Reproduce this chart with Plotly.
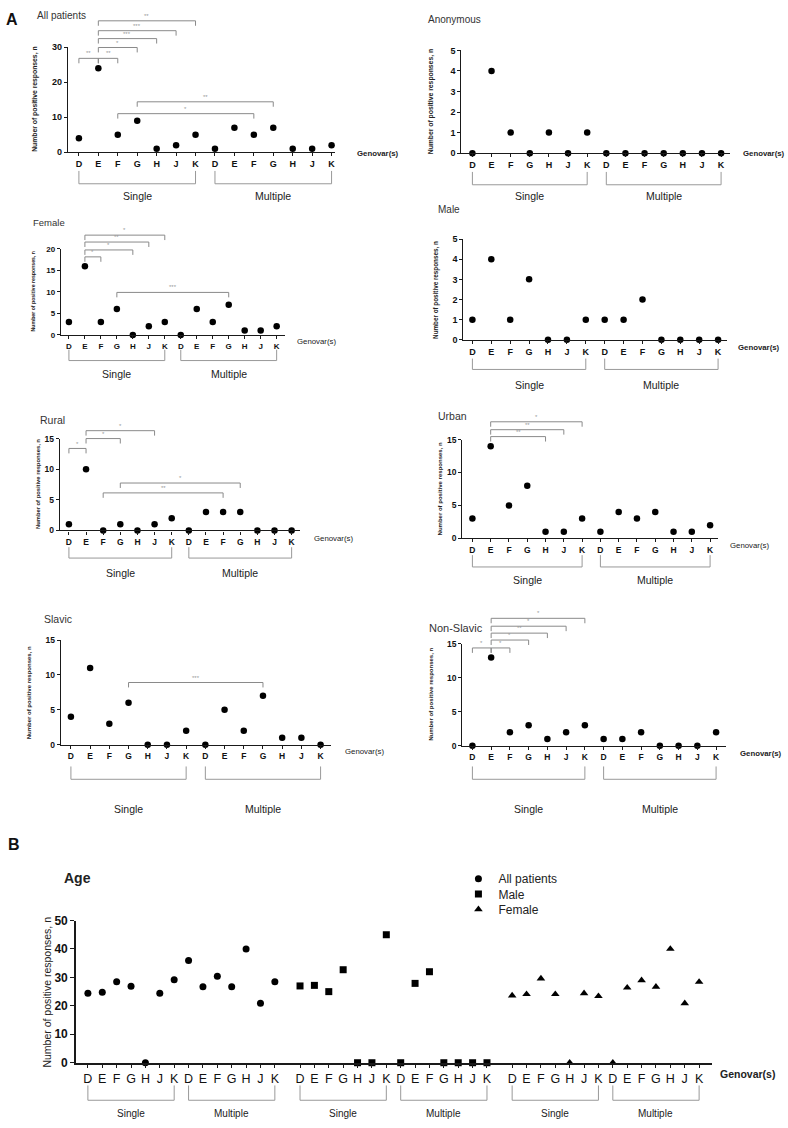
import plotly.graph_objects as go

W, H = 788, 1128

categories = ["D", "E", "F", "G", "H", "J", "K"]
group_names = ["Single", "Multiple"]

# ---------------- Panel A data ----------------
all_single = [4, 24, 5, 9, 1, 2, 5]
all_multiple = [1, 7, 5, 7, 1, 1, 2]
anon_single = [0, 4, 1, 0, 1, 0, 1]
anon_multiple = [0, 0, 0, 0, 0, 0, 0]
female_single = [3, 16, 3, 6, 0, 2, 3]
female_multiple = [0, 6, 3, 7, 1, 1, 2]
male_single = [1, 4, 1, 3, 0, 0, 1]
male_multiple = [1, 1, 2, 0, 0, 0, 0]
rural_single = [1, 10, 0, 1, 0, 1, 2]
rural_multiple = [0, 3, 3, 3, 0, 0, 0]
urban_single = [3, 14, 5, 8, 1, 1, 3]
urban_multiple = [1, 4, 3, 4, 1, 1, 2]
slavic_single = [4, 11, 3, 6, 0, 0, 2]
slavic_multiple = [0, 5, 2, 7, 1, 1, 0]
nonslavic_single = [0, 13, 2, 3, 1, 2, 3]
nonslavic_multiple = [1, 1, 2, 0, 0, 0, 2]

# significance comparisons: (group a, genovar a, group b, genovar b, label)
all_comparisons = [("S", "D", "S", "E", "**"), ("S", "E", "S", "F", "**"), ("S", "E", "S", "G", "*"),
                   ("S", "E", "S", "H", "***"), ("S", "E", "S", "J", "***"), ("S", "E", "S", "K", "**"),
                   ("S", "F", "M", "F", "*"), ("S", "G", "M", "G", "**")]
anon_comparisons = []
female_comparisons = [("S", "E", "S", "F", "*"), ("S", "E", "S", "H", "*"), ("S", "E", "S", "J", "**"),
                      ("S", "E", "S", "K", "*"), ("S", "G", "M", "G", "***")]
male_comparisons = []
rural_comparisons = [("S", "D", "S", "E", "*"), ("S", "E", "S", "G", "*"), ("S", "E", "S", "J", "*"),
                     ("S", "F", "M", "F", "**"), ("S", "G", "M", "G", "*")]
urban_comparisons = [("S", "E", "S", "H", "**"), ("S", "E", "S", "J", "**"), ("S", "E", "S", "K", "*")]
slavic_comparisons = [("S", "G", "M", "G", "***")]
nonslavic_comparisons = [("S", "D", "S", "E", "*"), ("S", "E", "S", "F", "*"), ("S", "E", "S", "G", "*"),
                         ("S", "E", "S", "H", "**"), ("S", "E", "S", "J", "*"), ("S", "E", "S", "K", "*")]

# ---------------- Panel B data (Age) ----------------
age_all_single = [24.4, 24.8, 28.5, 26.9, 0, 24.4, 29.2]
age_all_multiple = [35.9, 26.7, 30.4, 26.7, 40.0, 20.9, 28.5]
age_male_single = [27.0, 27.2, 25.0, 32.7, 0, 0, 45.0]
age_male_multiple = [0, 27.9, 32.0, 0, 0, 0, 0]
age_female_single = [23.6, 24.1, 29.6, 24.1, 0, 24.4, 23.4]
age_female_multiple = [0, 26.4, 29.0, 26.7, 40.0, 20.9, 28.4]
age_series = ["All patients", "Male", "Female"]

# ---------------- geometry (pixels) ----------------
panels = [
    dict(title="All patients", s=all_single, m=all_multiple, comps=all_comparisons, ymax=30, dtick=10,
         ax=(68, 335), cat=(79, 332), ypx=(147, 40.7), title_xy=(35, 9), yt_xy=(35, 93), gen_xy=(355, 148),
         br=(166, 179), gl_y=191, tops=[52, 52, 41, 32, 24, 14, 108, 96], tfs=9, yfs=6.8, ttl=10, gb=True),
    dict(title="Anonymous", s=anon_single, m=anon_multiple, comps=anon_comparisons, ymax=5, dtick=1,
         ax=(462, 731), cat=(473, 722), ypx=(148, 44), title_xy=(427, 13), yt_xy=(431, 96), gen_xy=(742, 148),
         br=(167, 180), gl_y=191, tops=[], tfs=9, yfs=6.8, ttl=10, gb=True),
    dict(title="Female", s=female_single, m=female_multiple, comps=female_comparisons, ymax=20, dtick=5,
         ax=(61, 285), cat=(69, 277), ypx=(332, 245), title_xy=(31, 218), yt_xy=(33, 288), gen_xy=(295, 339),
         br=(347, 358), gl_y=372, tops=[253, 246, 238, 231, 289], tfs=8, yfs=5.2, ttl=9.5, gb=False),
    dict(title="Male", s=male_single, m=male_multiple, comps=male_comparisons, ymax=5, dtick=1,
         ax=(464, 728), cat=(473, 719), ypx=(337, 235), title_xy=(437, 205), yt_xy=(437, 286), gen_xy=(737, 345),
         br=(356, 367), gl_y=383, tops=[], tfs=9, yfs=6.3, ttl=10, gb=True),
    dict(title="Rural", s=rural_single, m=rural_multiple, comps=rural_comparisons, ymax=15, dtick=5,
         ax=(60, 300), cat=(69, 292), ypx=(530, 437), title_xy=(38, 418), yt_xy=(38, 483), gen_xy=(312, 538),
         br=(547, 558), gl_y=573, tops=[447, 437, 429, 492, 482], tfs=8.5, yfs=5.8, ttl=10.5, gb=False),
    dict(title="Urban", s=urban_single, m=urban_multiple, comps=urban_comparisons, ymax=15, dtick=5,
         ax=(463, 719), cat=(473, 711), ypx=(538, 438), title_xy=(437, 414), yt_xy=(441, 488), gen_xy=(729, 545),
         br=(555, 567), gl_y=580, tops=[435, 428, 420], tfs=8.5, yfs=6, ttl=10.5, gb=False),
    dict(title="Slavic", s=slavic_single, m=slavic_multiple, comps=slavic_comparisons, ymax=15, dtick=5,
         ax=(61, 331), cat=(71, 321), ypx=(747, 641), title_xy=(42, 620), yt_xy=(29, 694), gen_xy=(343, 754),
         br=(769, 782), gl_y=812, tops=[684], tfs=8.5, yfs=6, ttl=10.5, gb=False),
    dict(title="Non-Slavic", s=nonslavic_single, m=nonslavic_multiple, comps=nonslavic_comparisons, ymax=15,
         dtick=5, ax=(463, 727), cat=(473, 717), ypx=(748, 645), title_xy=(428, 629), yt_xy=(432, 696),
         gen_xy=(739, 756), br=(769, 782), gl_y=812, tops=[649, 649, 641, 634, 627, 619], tfs=8.5, yfs=6,
         ttl=11, gb=True),
]

FONT = "Liberation Sans, Arial, sans-serif"
AXC = "#1a1a1a"
BRC = "#8a8a8a"


def px(p):
    return p / W


def py(p):
    return 1 - p / H


fig = go.Figure()
shapes = []
annos = []


def pos(group, cat):
    return (0 if group == "S" else 7) + categories.index(cat)


for k, P in enumerate(panels):
    n = k + 1
    xr = "x" if n == 1 else f"x{n}"
    yr = "y" if n == 1 else f"y{n}"
    step = (P["cat"][1] - P["cat"][0]) / 13
    lo = (P["ax"][0] - P["cat"][0]) / step
    hi = (P["ax"][1] - P["cat"][0]) / step
    tickfont = dict(family=FONT, size=P["tfs"], color="#111")
    fig.layout["xaxis" if n == 1 else f"xaxis{n}"] = dict(
        domain=[px(P["ax"][0]), px(P["ax"][1])], range=[lo, hi], anchor=yr,
        tickvals=list(range(14)), ticktext=[f"<b>{c}</b>" for c in categories * 2],
        ticks="outside", ticklen=3, tickwidth=1, tickcolor=AXC, showline=True, linecolor=AXC, linewidth=1.3,
        showgrid=False, zeroline=False, tickfont=tickfont, fixedrange=True)
    fig.layout["yaxis" if n == 1 else f"yaxis{n}"] = dict(
        domain=[py(P["ypx"][0]), py(P["ypx"][1])], range=[0, P["ymax"]], anchor=xr,
        tickmode="linear", tick0=0, dtick=P["dtick"], tickprefix="<b>", ticksuffix="</b>",
        ticks="outside", ticklen=3, tickwidth=1, tickcolor=AXC, showline=True, linecolor=AXC, linewidth=1.3,
        showgrid=False, zeroline=False, tickfont=tickfont, fixedrange=True)
    fig.add_trace(go.Scatter(
        x=list(range(14)), y=P["s"] + P["m"], mode="markers", xaxis=xr, yaxis=yr, cliponaxis=False,
        marker=dict(symbol="circle", size=6.5, color="black"), showlegend=False, hoverinfo="skip"))

    # significance brackets
    for comp, top in zip(P["comps"], P["tops"]):
        xa = pos(comp[0], comp[1])
        xb = pos(comp[2], comp[3])
        yt, yb = py(top), py(top + 5)
        shapes.append(dict(type="path", xref=xr, yref="paper",
                           path=f"M {xa},{yb} L {xa},{yt} L {xb},{yt} L {xb},{yb}",
                           line=dict(color=BRC, width=1)))
        annos.append(dict(x=(xa + xb) / 2, y=py(top - 5), xref=xr, yref="paper", text=comp[4],
                          showarrow=False, font=dict(family=FONT, size=6, color="#999"), yanchor="middle"))

    # group brackets under the axis
    for g in range(2):
        a, b = 7 * g, 7 * g + 6
        yt, yb = py(P["br"][0]), py(P["br"][1])
        shapes.append(dict(type="path", xref=xr, yref="paper",
                           path=f"M {a},{yt} L {a},{yb} L {b},{yb} L {b},{yt}",
                           line=dict(color="#999", width=1)))
        annos.append(dict(x=(a + b) / 2, y=py(P["gl_y"]), xref=xr, yref="paper", text=group_names[g],
                          showarrow=False, font=dict(family=FONT, size=10.5, color="#222"), yanchor="middle"))

    # titles
    annos.append(dict(x=px(P["title_xy"][0]), y=py(P["title_xy"][1]), xref="paper", yref="paper",
                      text=P["title"], showarrow=False, xanchor="left", yanchor="middle",
                      font=dict(family=FONT, size=P["ttl"], color="#333")))
    annos.append(dict(x=px(P["yt_xy"][0]), y=py(P["yt_xy"][1]), xref="paper", yref="paper",
                      text="<b>Number of positive responses, n</b>", textangle=-90, showarrow=False,
                      xanchor="center", yanchor="middle", font=dict(family=FONT, size=P["yfs"], color="#222")))
    gtxt = "<b>Genovar(s)</b>" if P["gb"] else "Genovar(s)"
    annos.append(dict(x=px(P["gen_xy"][0]), y=py(P["gen_xy"][1]), xref="paper", yref="paper",
                      text=gtxt, showarrow=False, xanchor="left", yanchor="middle",
                      font=dict(family=FONT, size=7.8, color="#222")))

# ---------------- Panel B ----------------
nB = 9
xrB, yrB = f"x{nB}", f"y{nB}"
stepB = 14.4
p0B = 88
b_positions = [7 * g + i + 0.75 * (g // 2) for g in range(6) for i in range(7)]
loB = (76 - p0B) / stepB
hiB = (713 - p0B) / stepB
fig.layout[f"xaxis{nB}"] = dict(
    domain=[px(76), px(713)], range=[loB, hiB], anchor=yrB, tickvals=b_positions, ticktext=categories * 6,
    ticks="outside", ticklen=4, tickwidth=1, tickcolor=AXC, showline=True, linecolor=AXC, linewidth=1.5,
    showgrid=False, zeroline=False, tickfont=dict(family=FONT, size=12.5, color="#111"), fixedrange=True)
fig.layout[f"yaxis{nB}"] = dict(
    domain=[py(1069), py(925)], range=[0, 50], anchor=xrB, tickmode="linear", tick0=0, dtick=10,
    tickprefix="<b>", ticksuffix="</b>", ticks="outside", ticklen=4, tickwidth=1, tickcolor=AXC,
    showline=True, linecolor=AXC, linewidth=1.5, showgrid=False, zeroline=False,
    tickfont=dict(family=FONT, size=12, color="#111"), fixedrange=True)

age_values = [age_all_single + age_all_multiple, age_male_single + age_male_multiple,
              age_female_single + age_female_multiple]
symbols = ["circle", "square", "triangle-up"]
legend_ids = ["legend", "legend2", "legend3"]
legend_tops = [868, 883.5, 899]
for si in range(3):
    fig.add_trace(go.Scatter(
        x=b_positions[14 * si:14 * si + 14], y=age_values[si], mode="markers", xaxis=xrB, yaxis=yrB,
        cliponaxis=False, name=age_series[si], legend=legend_ids[si],
        marker=dict(symbol=symbols[si], size=7 if si < 2 else 7.5, color="black"), showlegend=True,
        hoverinfo="skip"))

for g in range(6):
    a, b = b_positions[7 * g], b_positions[7 * g + 6]
    shapes.append(dict(type="path", xref=xrB, yref="paper",
                       path=f"M {a},{py(1092)} L {a},{py(1107)} L {b},{py(1107)} L {b},{py(1092)}",
                       line=dict(color="#999", width=1)))
    annos.append(dict(x=(a + b) / 2, y=py(1120), xref=xrB, yref="paper", text=group_names[g % 2],
                      showarrow=False, font=dict(family=FONT, size=10, color="#222"), yanchor="middle"))

annos.append(dict(x=px(62), y=py(882), xref="paper", yref="paper", text="<b>Age</b>", showarrow=False,
                  xanchor="left", yanchor="middle", font=dict(family=FONT, size=14, color="#222")))
annos.append(dict(x=px(47), y=py(997), xref="paper", yref="paper", text="Number of positive responses, n",
                  textangle=-90, showarrow=False, xanchor="center", yanchor="middle",
                  font=dict(family=FONT, size=10.5, color="#222")))
annos.append(dict(x=px(719), y=py(1080), xref="paper", yref="paper", text="<b>Genovar(s)</b>",
                  showarrow=False, xanchor="left", yanchor="middle", font=dict(family=FONT, size=10.5, color="#222")))

# panel letters
annos.append(dict(x=px(4), y=py(13), xref="paper", yref="paper", text="<b>A</b>", showarrow=False,
                  xanchor="left", yanchor="middle", font=dict(family=FONT, size=16, color="#111")))
annos.append(dict(x=px(6), y=py(848), xref="paper", yref="paper", text="<b>B</b>", showarrow=False,
                  xanchor="left", yanchor="middle", font=dict(family=FONT, size=16, color="#111")))

legend_style = dict(xanchor="left", yanchor="top", bgcolor="rgba(0,0,0,0)",
                    font=dict(family=FONT, size=12, color="#222"), itemwidth=30)
fig.update_layout(
    width=W, height=H, margin=dict(l=0, r=0, t=0, b=0), paper_bgcolor="white", plot_bgcolor="white",
    shapes=shapes, annotations=annos, font=dict(family=FONT),
    legend=dict(x=px(459), y=py(legend_tops[0]), **legend_style),
    legend2=dict(x=px(459), y=py(legend_tops[1]), **legend_style),
    legend3=dict(x=px(459), y=py(legend_tops[2]), **legend_style),
)

fig.write_html("out.html", config={"displayModeBar": False},
               post_script="document.body.style.margin='0';document.body.style.overflow='hidden';")
